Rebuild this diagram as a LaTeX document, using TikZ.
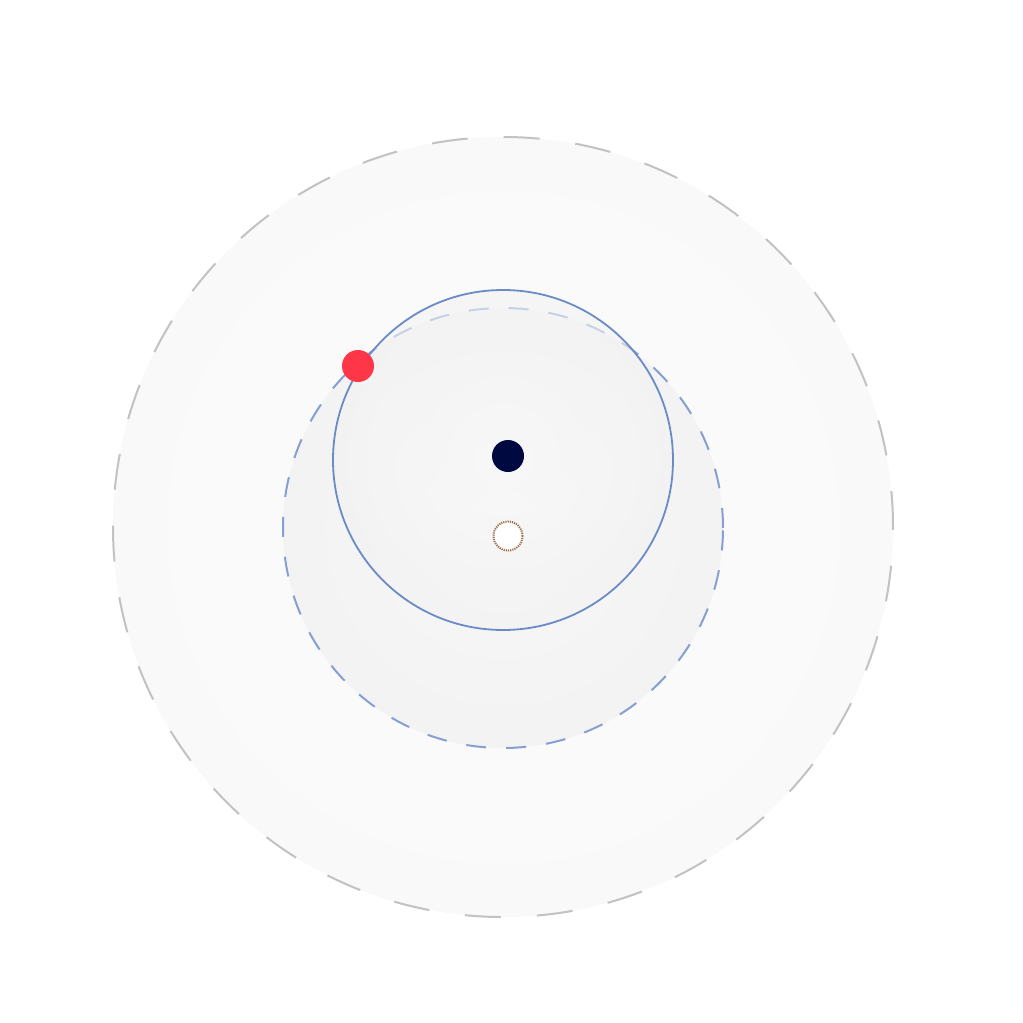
\documentclass[tikz,border=0pt]{standalone}
\usepackage{tikz}
\pgfdeclareradialshading{outershade}{\pgfpoint{0bp}{0bp}}{color(0bp)=(white!98.5!black); color(20bp)=(white!98!black); color(35bp)=(white!96.5!black); color(50bp)=(white!95!black)}
\pgfdeclareradialshading{midshade}{\pgfpoint{0bp}{0bp}}{color(0bp)=(white!97!black); color(20bp)=(white!95.5!black); color(35bp)=(white!94.5!black); color(50bp)=(white!93.5!black)}
\pgfdeclareradialshading{innershade}{\pgfpoint{0bp}{0bp}}{color(0bp)=(white!97.5!black); color(20bp)=(white!95.5!black); color(35bp)=(white!93.5!black); color(50bp)=(white!92!black)}
\definecolor{outerdash}{HTML}{C2C2C2}
\definecolor{middash}{HTML}{86A0D2}
\definecolor{innerline}{HTML}{6B8BC6}
\definecolor{navydot}{HTML}{000A40}
\definecolor{reddot}{HTML}{FF3548}
\definecolor{dotbrown}{HTML}{A0704C}
\tikzset{
  ring/.style={circle, inner sep=0pt, outer sep=0pt},
  outerring/.style={ring, minimum size=780pt, shading=outershade, draw=outerdash, line width=2pt, dash pattern=on 36pt off 36pt},
  midring/.style={ring, minimum size=440pt, shading=midshade, draw=middash, line width=2pt, dash pattern=on 20pt off 20pt},
  innerring/.style={ring, minimum size=340pt, shading=innershade, fill opacity=0.6, draw=innerline, draw opacity=1, line width=1.8pt},
  solid dot/.style={ring, minimum size=32pt},
  hollow dot/.style={ring, minimum size=29pt, fill=white, draw=dotbrown, line width=2pt, dash pattern=on 1.2pt off 1pt},
}
\begin{document}
\begin{tikzpicture}[x=1pt,y=-1pt]
\useasboundingbox (0,0) rectangle (1023,1023);
\node[outerring] (outer) at (503,527) {};
\node[midring] (mid) at (503,528) {};
\node[innerring] (inner) at (503,460) {};
\node[hollow dot] (hollow) at (508,536) {};
\node[solid dot, fill=navydot] (navy) at (508,456) {};
\node[solid dot, fill=reddot] (red) at (358,366) {};
\end{tikzpicture}
\end{document}
